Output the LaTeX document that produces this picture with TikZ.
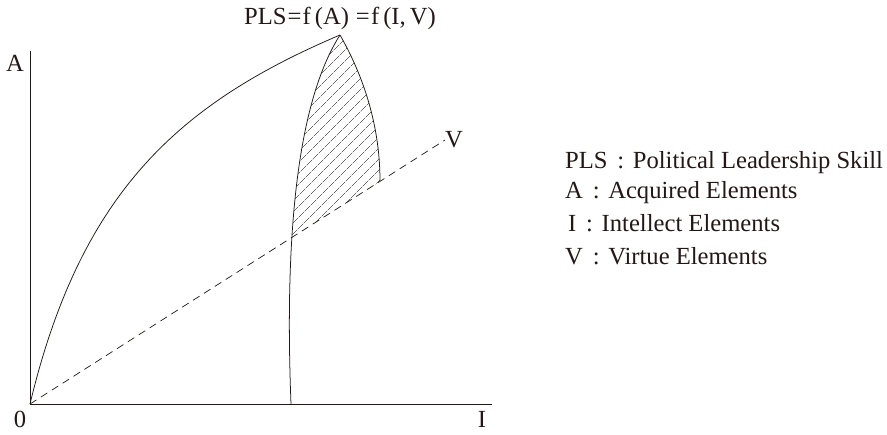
\documentclass[tikz,border=0pt]{standalone}
\usepackage{fontspec}
\setmainfont{Liberation Serif}
\usepackage{tikz}
\usetikzlibrary{patterns.meta}
\definecolor{ink}{RGB}{35,24,21}
\newcommand{\sep}{\hspace{0.4em}:\hspace{0.35em}}

\begin{document}
\begin{tikzpicture}[
    x=0.03cm, y=-0.03cm,
    curve/.style={draw=ink, line width=0.65pt},
    axis/.style={draw=ink, line width=0.8pt},
    label/.style={text=ink, font=\fontsize{21}{25}\selectfont, inner sep=0pt},
    legend/.style={label, anchor=west}
]
\useasboundingbox (0,0) rectangle (887,434);

% points of the plot
\coordinate (o) at (30,404);
\coordinate (atop) at (30,51);
\coordinate (iend) at (492,404);
\coordinate (vend) at (445,140);
\coordinate (peak) at (340,35);
\coordinate (foot) at (291,404);
\coordinate (tip) at (380,181);

% hatched part above V
\begin{scope}
\clip (o) -- (vend) -- (445,0) -- (30,0) -- cycle;
\path[pattern={Lines[angle=45,distance=7.4pt,line width=0.45pt]}, pattern color=ink]
    (peak) .. controls (305,90) and (283,200) .. (foot) -- (380,404) -- (tip)
    .. controls (380,120) and (360,70) .. (peak) -- cycle;
\end{scope}

\draw[axis] (atop) -- (o) -- (iend);
\draw[ink, line width=0.6pt, dash pattern=on 6.5pt off 4.5pt] (o) -- (vend);
\draw[curve] (o) .. controls (81,191) and (180,103) .. (peak);
\draw[curve] (peak) .. controls (305,90) and (283,200) .. (foot);
\draw[curve] (peak) .. controls (360,70) and (380,120) .. (tip);

\node[label] (f) at (340,18) {PLS\kern1pt=\kern1pt f\,(A)\;=\kern1pt f\,(I,\,V)};
\node[label] (a) at (15,63) {A};
\node[label] (zero) at (20,419) {0};
\node[label] (i) at (482,419) {I};
\node[label] (v) at (454,140) {V};

\node[legend] (pls) at (565,163) {PLS\sep Political Leadership Skill};
\node[legend] (acq) at (565,193) {A\sep Acquired Elements};
\node[legend] (int) at (568,223) {I\sep Intellect Elements};
\node[legend] (vir) at (565,256) {V\sep Virtue Elements};
\end{tikzpicture}
\end{document}
